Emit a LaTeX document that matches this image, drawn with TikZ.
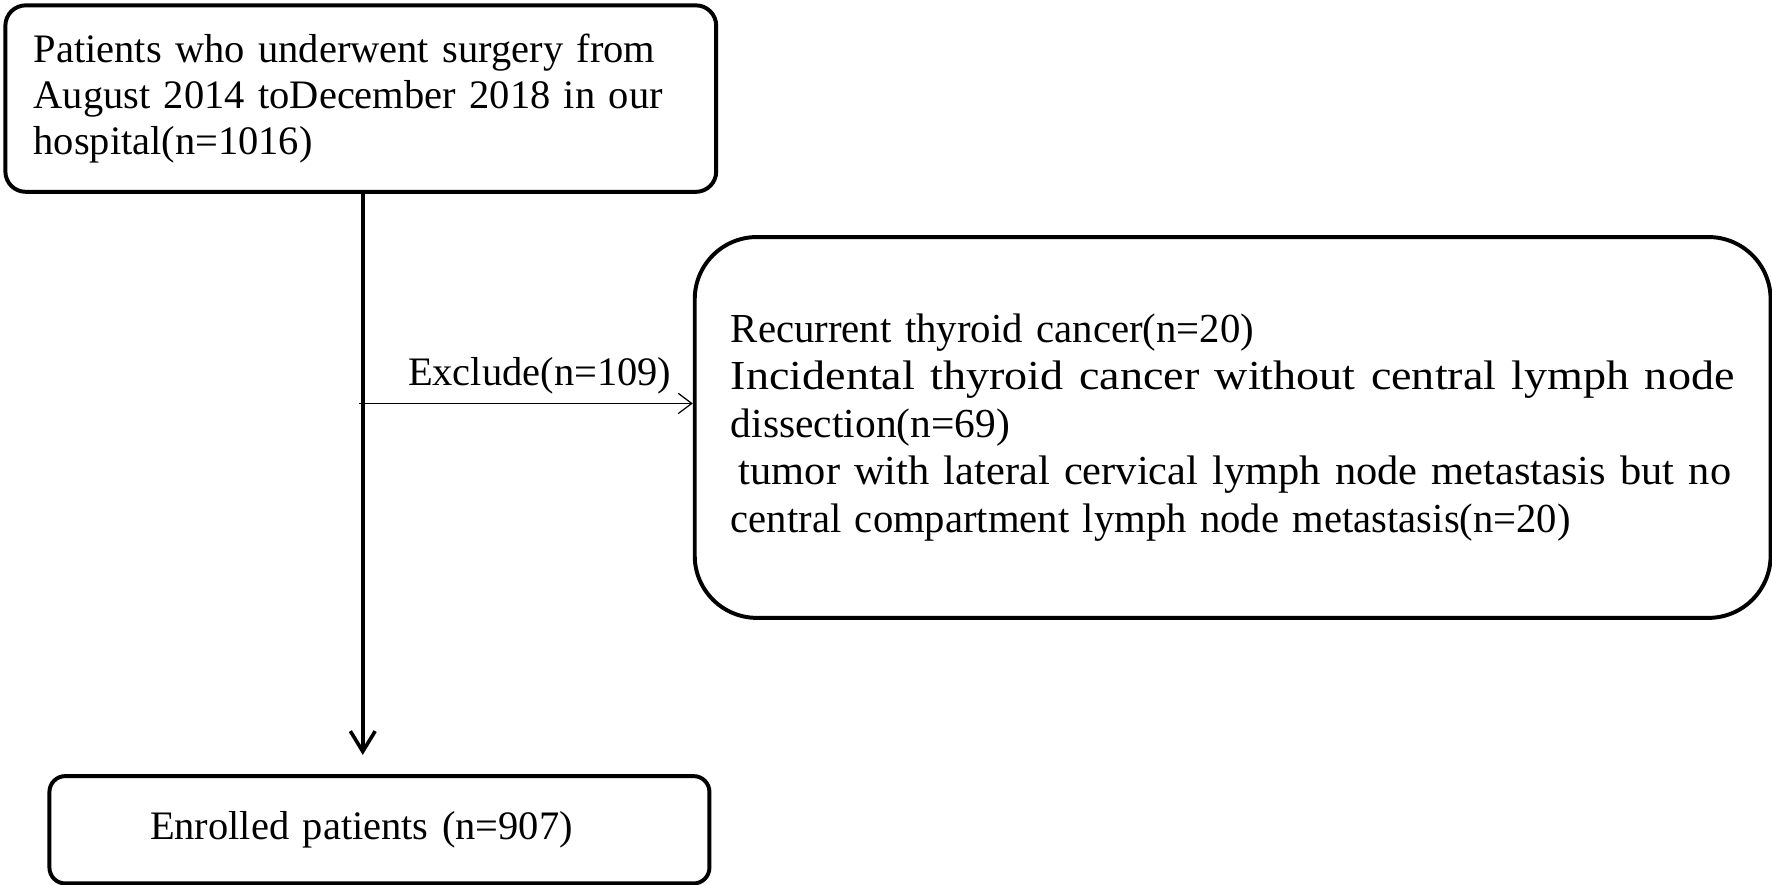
\documentclass[tikz,border=0pt]{standalone}
\usepackage{fontspec}
\setmainfont{Liberation Serif}
\usepackage{graphicx}
\usetikzlibrary{arrows.meta}
\newcommand\fitw[2]{\resizebox{#1}{\height}{#2}}
\begin{document}
\begin{tikzpicture}[x=1pt,y=-1pt,
  box/.style={draw=black, line width=3.5pt, inner sep=0pt, align=left,
    font=\fontsize{35.8}{40.5}\selectfont},
  thick arrow/.style={line width=3.2pt, -{Straight Barb[length=18pt,width=22pt,line width=3.2pt]}},
  thin arrow/.style={line width=1.1pt, -{Straight Barb[length=12pt,width=18pt,line width=1.1pt]}}]
\useasboundingbox (0,0) rectangle (1568,783);
\node[box, rounded corners=18pt, minimum width=629pt, minimum height=165pt,
  inner xsep=25pt, text width=579pt, anchor=north west] (top) at (3,3)
  {Patients who underwent surgery from\\August 2014 toDecember 2018 in our\\hospital(n=1016)};
\node[box, rounded corners=55pt, minimum width=952pt, minimum height=337pt,
  inner xsep=32pt, text width=888pt, anchor=north west,
  font=\fontsize{36.5}{42}\selectfont] (excl) at (613,208)
  {\fitw{463pt}{Recurrent thyroid cancer(n=20)}\\
   \fitw{888pt}{Incidental thyroid cancer without central lymph node}\\
   \fitw{247pt}{dissection(n=69)}\\
   \hspace*{7pt}\fitw{878pt}{tumor with lateral cervical lymph node metastasis but no}\\
   \fitw{743pt}{central compartment lymph node metastasis(n=20)}};
\node[box, rounded corners=14pt, minimum width=584pt, minimum height=95pt,
  inner xsep=89pt, text width=406pt, anchor=north west] (enr) at (42,685)
  {Enrolled patients (n=907)};
\coordinate (spine) at (321,357);
\draw[thick arrow] (top.south -| spine) -- ([yshift=17pt]enr.north -| spine);
\draw[thin arrow] ([xshift=-3pt]spine) -- (spine -| excl.west)
  node[midway, above=4pt, font=\fontsize{35.8}{40}\selectfont, xshift=12pt] (lab) {Exclude(n=109)};
\end{tikzpicture}
\end{document}
